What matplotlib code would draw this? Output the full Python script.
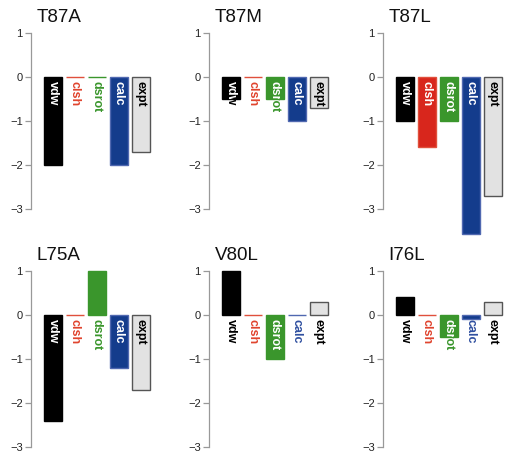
import matplotlib
matplotlib.use('Agg')
import matplotlib.pyplot as plt

plt.rcParams['font.family'] = ['Liberation Sans', 'DejaVu Sans']

PANELS = ['T87A', 'T87M', 'T87L', 'L75A', 'V80L', 'I76L']
TERMS = ['vdw', 'clsh', 'dsrot', 'calc', 'expt']

vdw = [-2.0, -0.5, -1.0, -2.4, 1.0, 0.4]
clsh = [0.0, 0.0, -1.6, 0.0, 0.0, 0.0]
dsrot = [0.0, -0.5, -1.0, 1.0, -1.0, -0.5]
calc = [-2.0, -1.0, -3.57, -1.2, 0.0, -0.08]
expt = [-1.7, -0.7, -2.7, -1.7, 0.3, 0.3]

FILL = ['#000000', '#d8261c', '#3a962c', '#143c8c', '#e2e2e2']
EDGE = ['#000000', '#e0503c', '#3a962c', '#5068b0', '#555555']
TEXT = ['#000000', '#e0442e', '#3a962c', '#3050a0', '#000000']

W, H = 506, 454
fig = plt.figure(figsize=(W / 100, H / 100), dpi=100)

col_left = [31, 209, 383]
row_top = [33, 271]
ax_w, ax_h = 130, 176

for i, name in enumerate(PANELS):
    r, c = divmod(i, 3)
    ax = fig.add_axes([col_left[c] / W, (H - row_top[r] - ax_h) / H, ax_w / W, ax_h / H])
    vals = [vdw[i], clsh[i], dsrot[i], calc[i], expt[i]]
    bars = ax.bar(range(5), vals, width=0.82, color=FILL, edgecolor=EDGE,
                  linewidth=1.0, clip_on=False)
    for k, (b, term) in enumerate(zip(bars, TERMS)):
        # coloured label, then white copy clipped to the bar
        ax.annotate(term, xy=(k, 0), xytext=(0, -3), textcoords='offset points',
                    rotation=270, ha='center', va='top', fontsize=9,
                    fontweight='bold', color=TEXT[k], annotation_clip=False)
        if k < 4 and vals[k] < 0:
            t = ax.annotate(term, xy=(k, 0), xytext=(0, -3), textcoords='offset points',
                            rotation=270, ha='center', va='top', fontsize=9,
                            fontweight='bold', color='white', annotation_clip=False)
            t.set_clip_on(True)
            t.set_clip_path(b)
    ax.set_xlim(-1.0, -1.0 + ax_w / 22)
    ax.set_ylim(-3, 1)
    ax.set_yticks([-3, -2, -1, 0, 1])
    for s in ['top', 'right', 'bottom']:
        ax.spines[s].set_visible(False)
    ax.spines['left'].set_color('#999999')
    ax.spines['left'].set_linewidth(0.9)
    ax.tick_params(axis='y', length=4, width=0.9, color='#999999',
                   labelsize=8, labelcolor='#222222', pad=2)
    ax.set_xticks([])
    ax.patch.set_visible(False)
    ax.annotate(name, xy=(0, 1), xycoords='axes fraction', xytext=(4, 5),
                textcoords='offset points', ha='left', va='bottom',
                fontsize=13.5, color='#111111')

fig.savefig('out.png', dpi=100)
